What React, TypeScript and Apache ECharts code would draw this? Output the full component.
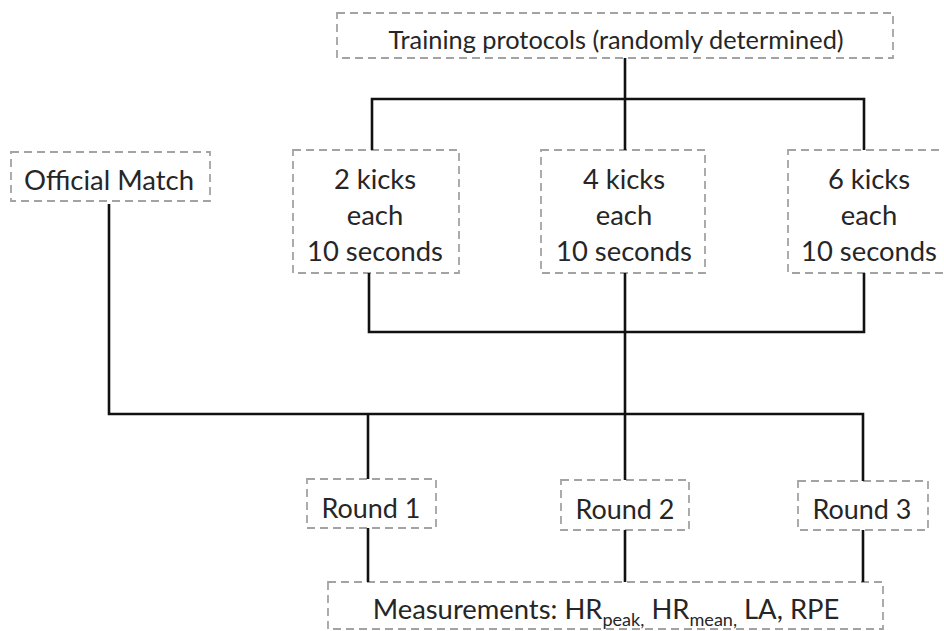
import React, { useEffect, useRef } from "react";
import * as echarts from "echarts";

const topLabel = "Training protocols (randomly determined)";
const matchLabel = "Official Match";
const protocolLabels = [
  ["2 kicks", "each", "10 seconds"],
  ["4 kicks", "each", "10 seconds"],
  ["6 kicks", "each", "10 seconds"],
];
const roundLabels = ["Round 1", "Round 2", "Round 3"];
const measurementParts = ["Measurements: HR", "peak,", " HR", "mean,", " LA, RPE"];

const FONT = "Lato, 'Open Sans', sans-serif";
const TEXT_COLOR = "#262626";
const BOX_STROKE = "#a3a3a3";
const LINE_COLOR = "#111111";
const SUB_RATIO = 0.66;

let measureCtx: CanvasRenderingContext2D | null = null;
function textWidth(text: string, size: number) {
  if (!measureCtx) measureCtx = document.createElement("canvas").getContext("2d");
  if (!measureCtx) return text.length * size * 0.5;
  measureCtx.font = `${size}px ${FONT}`;
  return measureCtx.measureText(text).width;
}
// font size (clamped) that makes a text span the width it has in the reference
function fitSize(widthAt100: number, target: number) {
  const s = (target / widthAt100) * 100;
  return Math.max(22, Math.min(29, s));
}

function box(x: number, y: number, w: number, h: number) {
  return {
    type: "rect",
    shape: { x, y, width: w, height: h },
    style: { fill: "none", stroke: BOX_STROKE, lineWidth: 1.8, lineDash: [8, 5] },
    silent: true,
  };
}

function label(x: number, y: number, text: string, fontSize: number, lineHeight = 36) {
  return {
    type: "text",
    x,
    y,
    style: {
      text,
      fontFamily: FONT,
      fontSize,
      fill: TEXT_COLOR,
      align: "center",
      verticalAlign: "middle",
      lineHeight,
    },
    silent: true,
  };
}

function wire(points: number[][]) {
  return {
    type: "polyline",
    shape: { points },
    style: { stroke: LINE_COLOR, lineWidth: 2.6, fill: "none", lineJoin: "miter" },
    silent: true,
  };
}

export default function App() {
  const ref = useRef<HTMLDivElement>(null);

  useEffect(() => {
    if (!ref.current) return;
    const chart = echarts.init(ref.current, null, { renderer: "svg" });

    const fsTop = fitSize(textWidth(topLabel, 100), 456);
    const fsMatch = fitSize(textWidth(matchLabel, 100), 170);
    const fsProto = fitSize(textWidth(protocolLabels[0][2], 100), 136);
    const fsRound = fitSize(textWidth(roundLabels[0], 100), 99);
    const measW =
      textWidth(measurementParts[0] + measurementParts[2] + measurementParts[4], 100) +
      textWidth(measurementParts[1] + measurementParts[3], 100 * SUB_RATIO);
    const fsMeas = fitSize(measW, 467);

    const protoBoxes = [
      { x: 293, w: 166, cx: 375 },
      { x: 541, w: 164, cx: 624 },
      { x: 788, w: 172, cx: 869 },
    ];
    const roundBoxes = [
      { x: 307, y: 479, w: 129, h: 49, cx: 371, cy: 507 },
      { x: 561, y: 480, w: 128, h: 50, cx: 625, cy: 508 },
      { x: 798, y: 481, w: 130, h: 49, cx: 862, cy: 508 },
    ];

    const elements: any[] = [];
    elements.push(box(337, 13, 556, 45));
    elements.push(label(616, 38.5, topLabel, fsTop));
    elements.push(box(11, 152, 199, 49));
    elements.push(label(109, 179, matchLabel, fsMatch));
    protoBoxes.forEach((b, i) => {
      elements.push(box(b.x, 150, b.w, 123));
      elements.push(label(b.cx, 214.5, protocolLabels[i].join("\n"), fsProto, 36));
    });
    roundBoxes.forEach((b, i) => {
      elements.push(box(b.x, b.y, b.w, b.h));
      elements.push(label(b.cx, b.cy, roundLabels[i], fsRound));
    });
    elements.push(box(328, 582, 555, 47));
    const subFs = fsMeas * SUB_RATIO;
    // subscript baseline ~8px below the main baseline
    const mainHalf = fsMeas * 0.358;
    const subHalf = subFs * 0.358;
    const offset = 8 + mainHalf - subHalf;
    const subLH = subFs;
    const mainLH = 2 * offset + subLH;
    elements.push({
      type: "text",
      x: 606,
      y: 608,
      style: {
        text:
          "{a|" + measurementParts[0] + "}{s|" + measurementParts[1] + "}{a|" +
          measurementParts[2] + "}{s|" + measurementParts[3] + "}{a|" + measurementParts[4] + "}",
        align: "center",
        verticalAlign: "middle",
        rich: {
          a: { fontFamily: FONT, fontSize: fsMeas, fill: TEXT_COLOR, lineHeight: mainLH, verticalAlign: "middle" },
          s: { fontFamily: FONT, fontSize: subFs, fill: TEXT_COLOR, lineHeight: subLH, verticalAlign: "bottom" },
        },
      },
      silent: true,
    });

    elements.push(wire([[625, 58], [625, 150]]));
    elements.push(wire([[372, 150], [372, 99], [864, 99], [864, 150]]));
    elements.push(wire([[369, 273], [369, 332], [864, 332], [864, 273]]));
    elements.push(wire([[625, 273], [625, 480]]));
    elements.push(wire([[109, 204], [109, 414], [863, 414], [863, 481]]));
    elements.push(wire([[368, 414], [368, 479]]));
    elements.push(wire([[368, 528], [368, 582]]));
    elements.push(wire([[625, 530], [625, 582]]));
    elements.push(wire([[863, 530], [863, 582]]));

    chart.setOption({
      animation: false,
      backgroundColor: "#ffffff",
      graphic: { elements },
    });

    return () => chart.dispose();
  }, []);

  return (
    <div
      ref={ref}
      style={{ position: "fixed", left: 0, top: 0, width: 944, height: 631, background: "#fff" }}
    />
  );
}
